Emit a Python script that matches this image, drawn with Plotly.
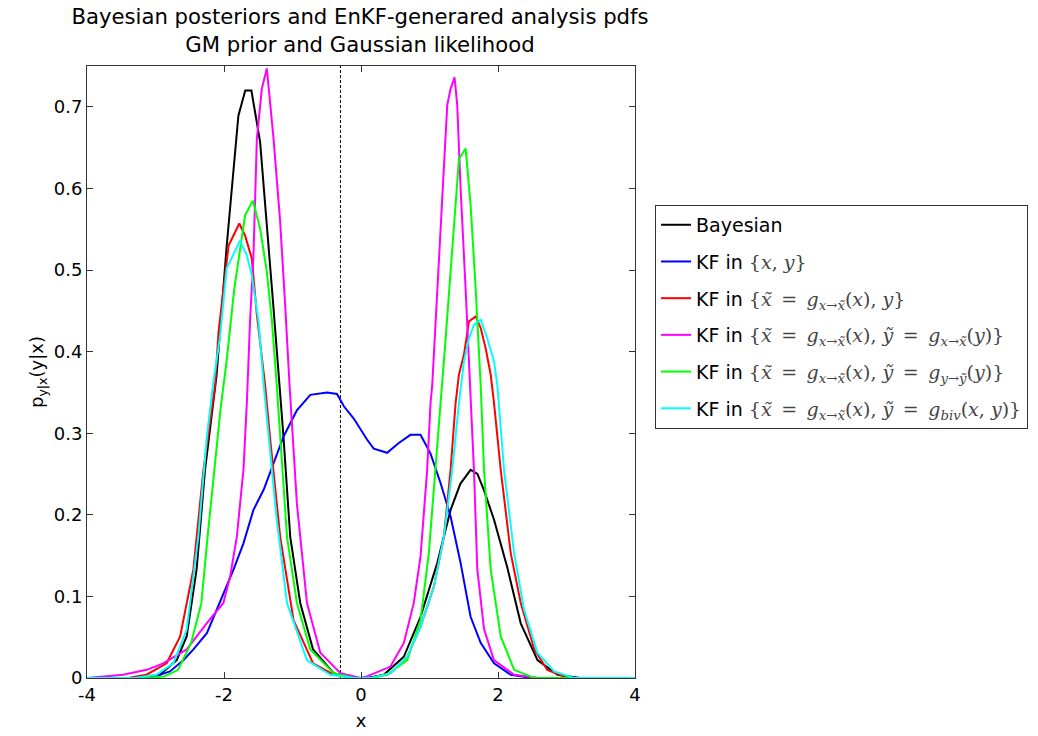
import plotly.graph_objects as go

# ---------------- data ----------------
bayes_x = [-4, -3.3, -2.936, -2.69, -2.545, -2.40, -2.277, -2.11, -1.96, -1.79, -1.69, -1.60, -1.473, -1.375,
           -1.277, -1.19, -1.132, -1.033, -0.887, -0.70, -0.40, -0.1, 0.1, 0.332, 0.625, 0.869, 1.113, 1.308,
           1.45, 1.60, 1.70, 1.796, 1.942, 2.137, 2.332, 2.576, 2.87, 3.2, 4]
bayes_y = [0, 0.0, 0.004, 0.022, 0.051, 0.133, 0.255, 0.37, 0.53, 0.689, 0.72, 0.72, 0.657, 0.559,
           0.453, 0.359, 0.296, 0.173, 0.092, 0.035, 0.006, 0.0, 0.0, 0.004, 0.026, 0.075, 0.141, 0.206,
           0.238, 0.255, 0.25, 0.23, 0.194, 0.135, 0.067, 0.022, 0.004, 0.0, 0]

kf_xy_x = [-4, -3.3, -3.0, -2.79, -2.59, -2.447, -2.25, -2.06, -1.86, -1.716, -1.57, -1.42, -1.277, -1.13,
           -0.936, -0.74, -0.496, -0.35, -0.25, -0.106, 0.09, 0.186, 0.381, 0.552, 0.722, 0.869, 1.015,
           1.161, 1.308, 1.454, 1.6, 1.747, 1.942, 2.186, 2.5, 4]
kf_xy_y = [0, 0.0, 0.002, 0.008, 0.022, 0.035, 0.055, 0.092, 0.133, 0.165, 0.206, 0.231, 0.263, 0.296,
           0.328, 0.347, 0.350, 0.348, 0.333, 0.318, 0.292, 0.281, 0.276, 0.288, 0.298, 0.298, 0.275,
           0.239, 0.198, 0.141, 0.075, 0.043, 0.018, 0.004, 0.0, 0]

kf_gx_x = [-4, -3.4, -3.13, -2.838, -2.64, -2.447, -2.30, -2.13, -2.08, -2.006, -1.933, -1.776, -1.692,
           -1.594, -1.52, -1.40, -1.33, -1.18, -0.985, -0.70, -0.40, -0.1, 0.15, 0.43, 0.674, 0.869, 1.064,
           1.21, 1.308, 1.381, 1.43, 1.503, 1.552, 1.576, 1.674, 1.747, 1.82, 1.893, 1.942, 2.04, 2.186,
           2.332, 2.53, 2.72, 3.02, 4]
kf_gx_y = [0, 0, 0.004, 0.018, 0.051, 0.133, 0.255, 0.359, 0.424, 0.477, 0.53, 0.557, 0.542,
           0.514, 0.445, 0.359, 0.296, 0.173, 0.071, 0.018, 0.004, 0, 0, 0.006, 0.026, 0.063, 0.112,
           0.173, 0.255, 0.337, 0.372, 0.396, 0.425, 0.437, 0.443, 0.429, 0.404, 0.372, 0.337, 0.255, 0.153,
           0.092, 0.035, 0.01, 0, 0]

kf_gxx_x = [-4, -3.47, -3.13, -2.887, -2.545, -2.253, -2.01, -1.911, -1.813, -1.716, -1.665, -1.62, -1.57,
            -1.52, -1.448, -1.375, -1.277, -1.18, -1.107, -1.043, -0.936, -0.789, -0.594, -0.301, 0.0, 0.088,
            0.43, 0.625, 0.771, 0.869, 0.966, 1.015, 1.04, 1.113, 1.186, 1.259, 1.308, 1.366, 1.405, 1.454,
            1.527, 1.59, 1.649, 1.698, 1.796, 1.94, 2.235, 2.6, 4]
kf_gxx_y = [0, 0.004, 0.010, 0.018, 0.035, 0.067, 0.092, 0.124, 0.173, 0.255, 0.34, 0.437, 0.518,
            0.661, 0.722, 0.747, 0.661, 0.559, 0.457, 0.359, 0.214, 0.092, 0.031, 0.006, 0.0, 0.002,
            0.014, 0.043, 0.092, 0.149, 0.255, 0.337, 0.359, 0.477, 0.6, 0.702, 0.722, 0.736, 0.702, 0.6,
            0.477, 0.359, 0.255, 0.133, 0.06, 0.022, 0.004, 0, 0]

kf_gxy_x = [-4, -3.1, -2.87, -2.67, -2.48, -2.33, -2.24, -2.14, -2.05, -1.96, -1.85, -1.75, -1.692, -1.579,
            -1.473, -1.375, -1.30, -1.23, -1.18, -1.08, -0.936, -0.74, -0.40, -0.1, 0.15, 0.381, 0.674,
            0.869, 0.99, 1.088, 1.16, 1.23, 1.308, 1.381, 1.43, 1.527, 1.6, 1.674, 1.747, 1.796, 1.893,
            2.04, 2.235, 2.53, 4]
kf_gxy_y = [0, 0, 0.002, 0.01, 0.043, 0.092, 0.173, 0.255, 0.33, 0.39, 0.477, 0.534, 0.567, 0.585,
            0.551, 0.498, 0.437, 0.359, 0.296, 0.173, 0.092, 0.035, 0.006, 0, 0, 0.004, 0.022,
            0.071, 0.153, 0.255, 0.34, 0.41, 0.498, 0.58, 0.636, 0.649, 0.58, 0.477, 0.359, 0.255, 0.133,
            0.051, 0.01, 0, 0]

kf_biv_x = [-4, -3.3, -2.99, -2.74, -2.545, -2.375, -2.25, -2.16, -2.06, -1.96, -1.767, -1.667, -1.594,
            -1.496, -1.42, -1.35, -1.23, -1.08, -0.79, -0.45, -0.1, 0.15, 0.43, 0.674, 0.869, 1.064, 1.21,
            1.332, 1.43, 1.503, 1.576, 1.649, 1.747, 1.844, 1.942, 1.99, 2.088, 2.235, 2.38, 2.576, 2.82,
            3.11, 4]
kf_biv_y = [0, 0, 0.004, 0.018, 0.059, 0.173, 0.296, 0.359, 0.417, 0.502, 0.536, 0.518, 0.494,
            0.437, 0.359, 0.296, 0.194, 0.092, 0.022, 0.004, 0, 0, 0.006, 0.026, 0.063, 0.112, 0.173,
            0.255, 0.337, 0.388, 0.416, 0.433, 0.439, 0.416, 0.388, 0.359, 0.255, 0.153, 0.084, 0.031, 0.008,
            0, 0]

obs_x = [-0.3, -0.3]
obs_y = [0, 0.75]

x_ticks = [-4, -2, 0, 2, 4]
x_tick_labels = ["-4", "-2", "0", "2", "4"]
y_ticks = [0, 0.1, 0.2, 0.3, 0.4, 0.5, 0.6, 0.7]
y_tick_labels = ["0", "0.1", "0.2", "0.3", "0.4", "0.5", "0.6", "0.7"]

M = "<span style='font-family:DejaVu Serif;color:#444;font-size:19px'>"
E = "</span>"
SP = "\u2002"
EQ = SP + "=" + SP
SUBXX = "<sub><i>x</i>→<i>x̃</i></sub>"
names = [
    "Bayesian",
    "KF in " + M + "{<i>x</i>, <i>y</i>}" + E,
    "KF in " + M + "{<i>x̃</i>" + EQ + "<i>g</i>" + SUBXX + "(<i>x</i>), <i>y</i>}" + E,
    "KF in " + M + "{<i>x̃</i>" + EQ + "<i>g</i>" + SUBXX + "(<i>x</i>), <i>ỹ</i>" + EQ + "<i>g</i>" + SUBXX
    + "(<i>y</i>)}" + E,
    "KF in " + M + "{<i>x̃</i>" + EQ + "<i>g</i>" + SUBXX + "(<i>x</i>), <i>ỹ</i>" + EQ
    + "<i>g</i><sub><i>y</i>→<i>ỹ</i></sub>(<i>y</i>)}" + E,
    "KF in " + M + "{<i>x̃</i>" + EQ + "<i>g</i>" + SUBXX + "(<i>x</i>), <i>ỹ</i>" + EQ
    + "<i>g</i><sub><i>biv</i></sub>(<i>x</i>, <i>y</i>)}" + E,
]
series = [(bayes_x, bayes_y, "#000000"), (kf_xy_x, kf_xy_y, "#0000FF"), (kf_gx_x, kf_gx_y, "#FF0000"),
          (kf_gxx_x, kf_gxx_y, "#FF00FF"), (kf_gxy_x, kf_gxy_y, "#00FF00"), (kf_biv_x, kf_biv_y, "#00FFFF")]

fig = go.Figure()
fig.add_trace(go.Scatter(x=obs_x, y=obs_y, mode="lines", showlegend=False,
                         line=dict(color="black", width=1, dash="3px,2px")))
for i, ((xs, ys, col), nm) in enumerate(zip(series, names)):
    fig.add_trace(go.Scatter(x=xs, y=ys, mode="lines", name=nm, legendgroup=f"g{i}",
                             line=dict(color=col, width=2)))

axis_common = dict(showline=True, linecolor="#333", linewidth=1, mirror="ticks", ticks="inside",
                   ticklen=6, tickcolor="#333", showgrid=False, zeroline=False,
                   tickfont=dict(family="DejaVu Sans", size=18, color="black"))
fig.update_xaxes(range=[-4, 4], tickvals=x_ticks, ticktext=x_tick_labels, **axis_common,
                 title=dict(text="x", font=dict(family="DejaVu Sans", size=18, color="black"), standoff=10))
fig.update_yaxes(range=[0, 0.75], tickvals=y_ticks, ticktext=y_tick_labels, **axis_common,
                 title=dict(text="p<sub>y|x</sub>(y|x)", font=dict(family="DejaVu Sans", size=18, color="black"),
                            standoff=5))

fig.update_layout(
    width=1038, height=736,
    margin=dict(l=87, r=403, t=66, b=58, autoexpand=False),
    paper_bgcolor="white", plot_bgcolor="white",
    title=dict(text="Bayesian posteriors and EnKF-generared analysis pdfs<br>GM prior and Gaussian likelihood",
               x=0.3468, xanchor="center", y=0.967, yanchor="top",
               font=dict(family="DejaVu Sans", size=21.2, color="black")),
    legend=dict(x=1.0366, y=0.773, xanchor="left", yanchor="top", bgcolor="white",
                bordercolor="#333", borderwidth=1, tracegroupgap=9,
                font=dict(family="DejaVu Sans", size=19, color="black")),
)

fig.write_html("out.html", config={"displayModeBar": False},
               post_script="document.body.style.margin='0px';")
